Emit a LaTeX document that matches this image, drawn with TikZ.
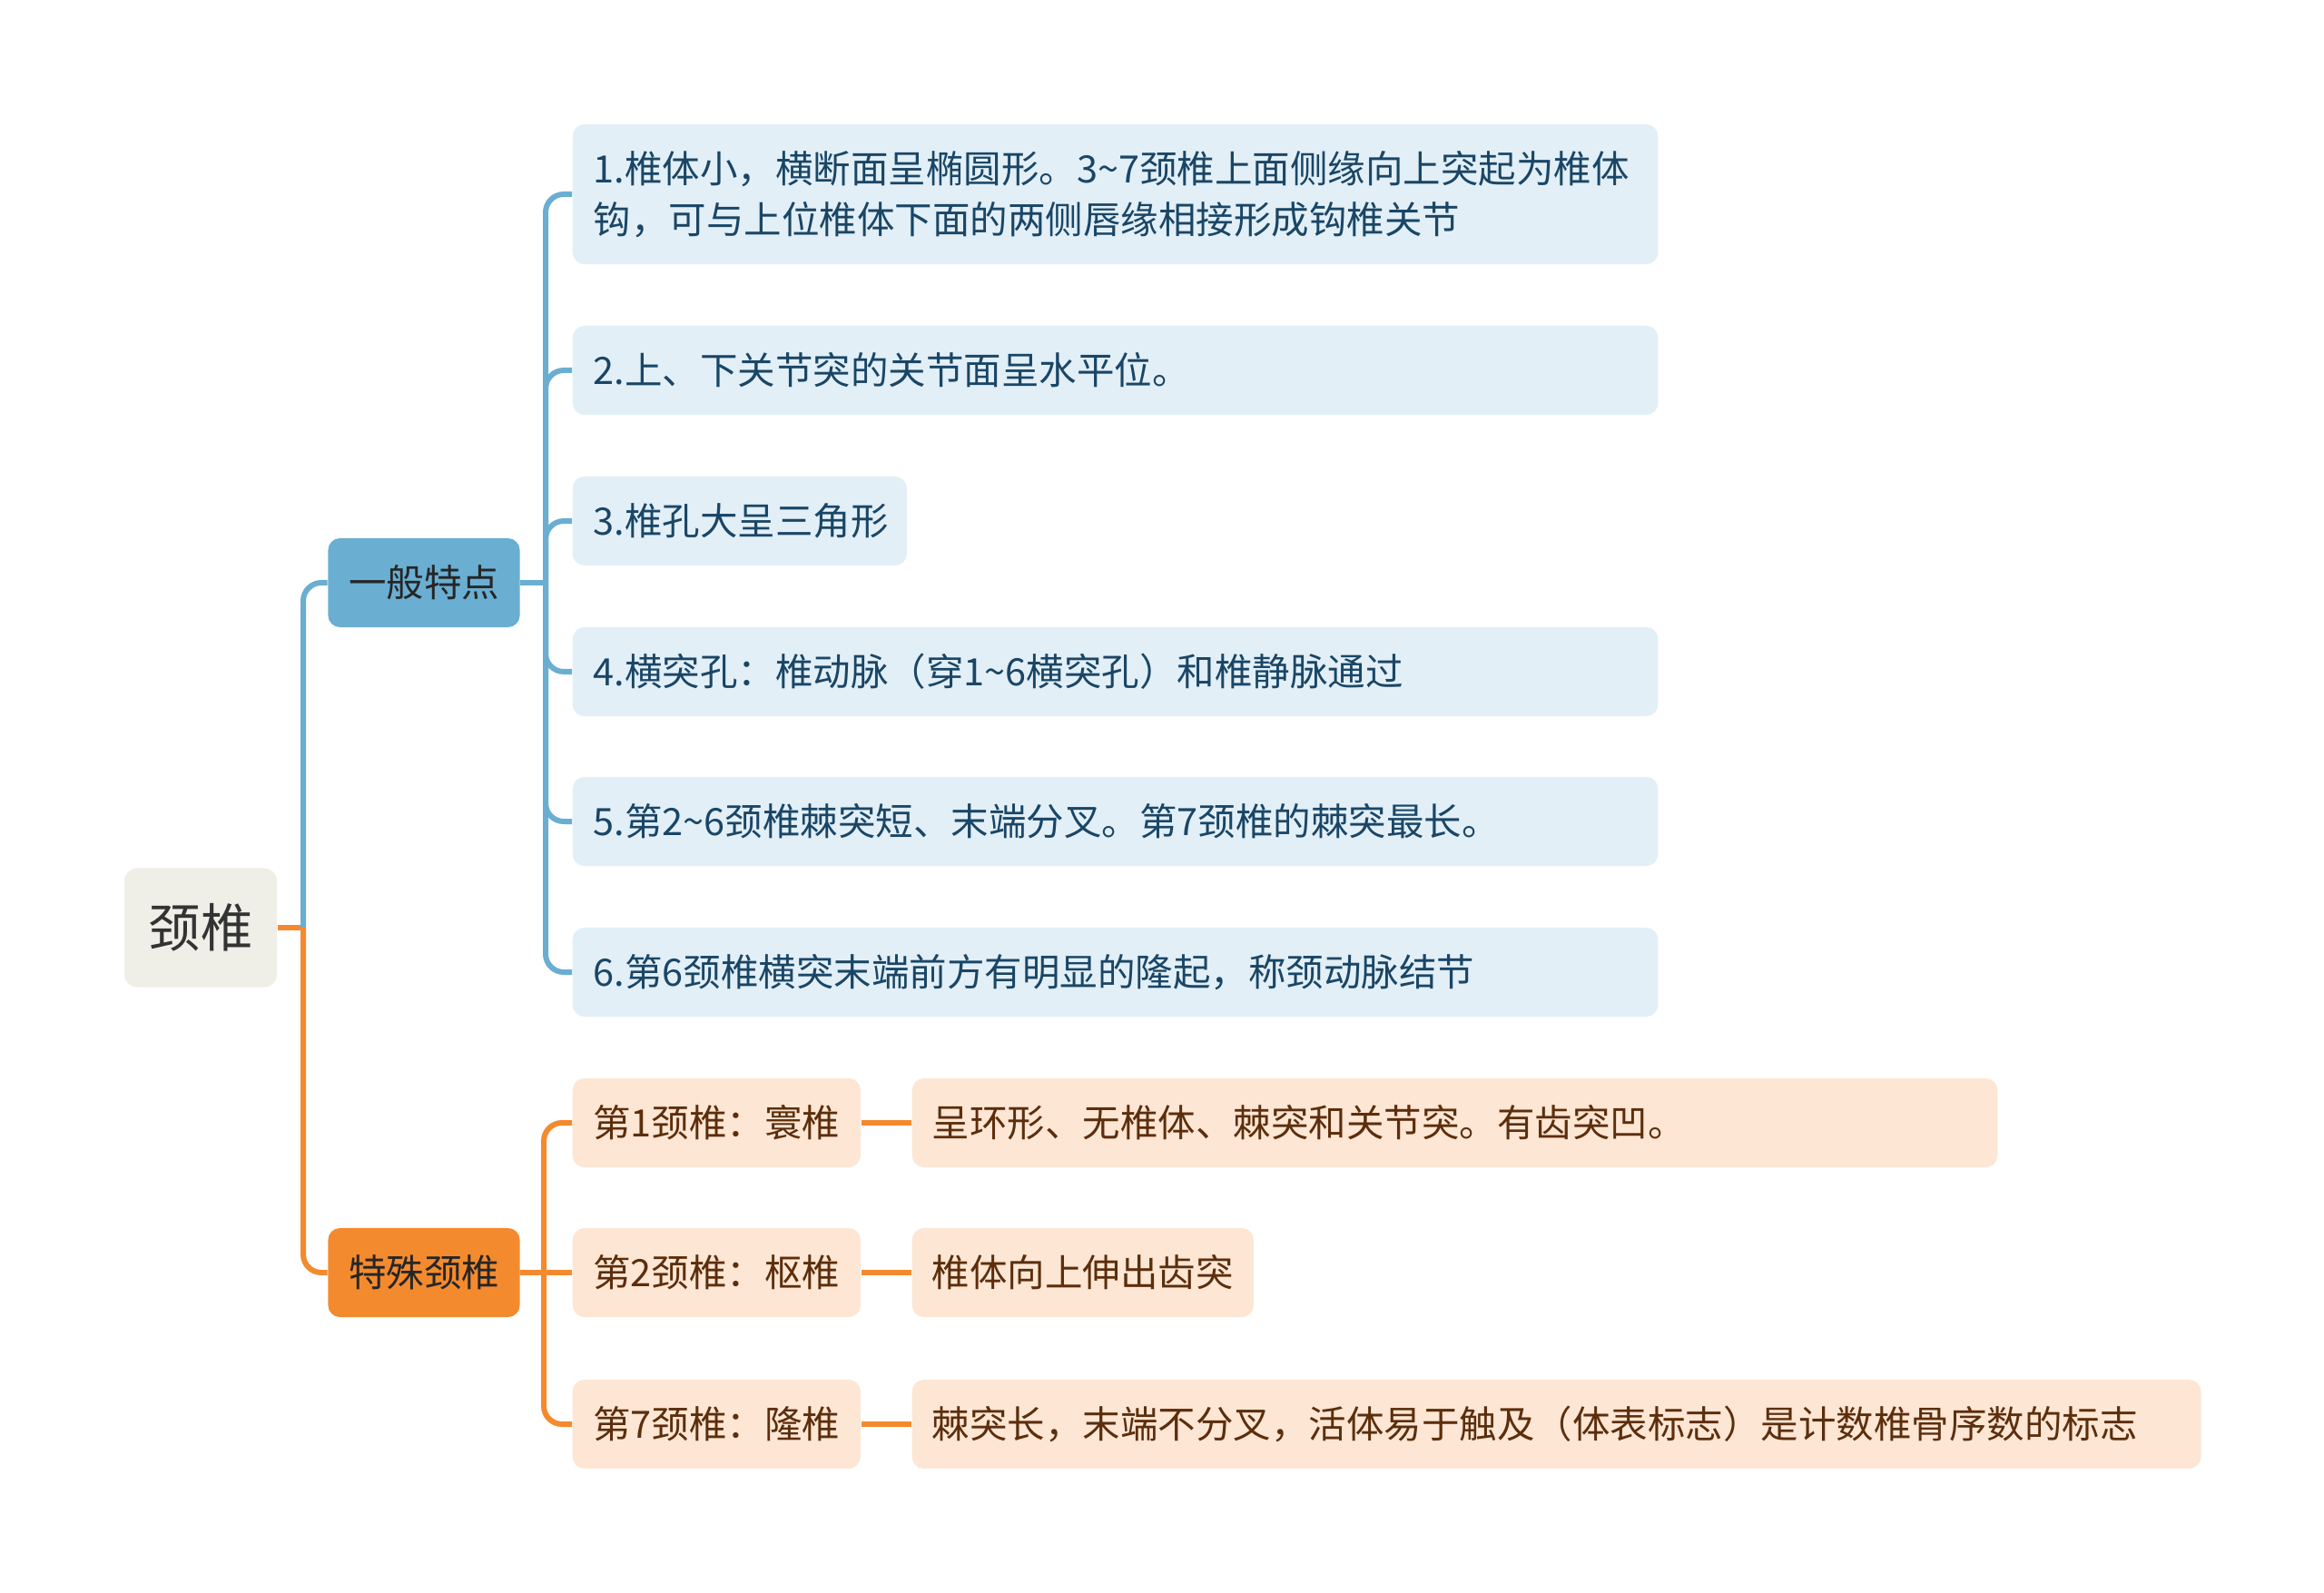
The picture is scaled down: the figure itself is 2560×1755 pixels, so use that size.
\documentclass[tikz,border=0pt]{standalone}
\usepackage{fontspec}
\newfontfamily\cjk{Noto Sans CJK SC}
\usepackage{tikz}
\usetikzlibrary{positioning}
\definecolor{rootfill}{RGB}{239,238,231}
\definecolor{bluemain}{RGB}{106,174,210}
\definecolor{bluelight}{RGB}{226,239,247}
\definecolor{bluetext}{RGB}{26,70,102}
\definecolor{orgmain}{RGB}{244,138,46}
\definecolor{orglight}{RGB}{253,230,212}
\definecolor{orgtext}{RGB}{92,46,12}
\tikzset{txt/.style={font=\cjk\fontsize{11.8pt}{15.8pt}\selectfont}}

\begin{document}
\begin{tikzpicture}[x=0.01cm, y=-0.01cm]
\tikzstyle{rootbox} = [fill=rootfill, rounded corners=0.14cm, minimum width=1.68cm, minimum height=1.31cm, inner sep=0pt, text=black!80, font=\cjk\fontsize{16.3pt}{20pt}\selectfont]
\tikzstyle{subbox} = [txt, rounded corners=0.13cm, minimum width=2.11cm, minimum height=0.98cm, inner sep=0pt, text=black!85]
\tikzstyle{leafb} = [txt, anchor=west, fill=bluelight, text=bluetext, rounded corners=0.13cm, inner xsep=0.23cm, inner ysep=0pt, minimum height=0.98cm, text width=11.49cm, align=left]
\tikzstyle{leafo} = [txt, anchor=west, fill=orglight, text=orgtext, rounded corners=0.13cm, inner xsep=0.22cm, inner ysep=0pt, minimum height=0.98cm, align=left]
\tikzstyle{bline} = [bluemain, line width=0.06cm, rounded corners=0.2cm]
\tikzstyle{oline} = [orgmain, line width=0.06cm, rounded corners=0.2cm]
\useasboundingbox (0,0) rectangle (2560,1755);

% root and main branches
\node[rootbox](neck) at (221, 1022){颈椎};
\node[subbox, fill=bluemain](gen) at (467, 642){一般特点};
\node[subbox, fill=orgmain](spec) at (467, 1402){特殊颈椎};

% general features
\node[leafb, minimum height=1.54cm](g1) at (630, 214){1.椎体小，横断面呈椭圆形。3\textasciitilde7颈椎上面侧缘向上突起为椎体\\钩，可与上位椎体下面的两侧唇缘相接形成钩椎关节};
\node[leafb](g2) at (630, 408){2.上、下关节突的关节面呈水平位。};
\node[leafb, text width=3.22cm](g3) at (630, 574){3.椎孔大呈三角形};
\node[leafb](g4) at (630, 740){4.横突孔：椎动脉（穿1\textasciitilde6横突孔）和椎静脉通过};
\node[leafb](g5) at (630, 905){5.第2\textasciitilde6颈椎棘突短、末端分叉。第7颈椎的棘突最长。};
\node[leafb](g6) at (630, 1071){6.第6颈椎横突末端前方有明显的隆起，称颈动脉结节};

% special vertebrae
\node[leafo, minimum width=3.17cm](c1) at (630, 1237){第1颈椎：寰椎};
\node[leafo, minimum width=3.17cm](c2) at (630, 1402){第2颈椎：枢椎};
\node[leafo, minimum width=3.17cm](c7) at (630, 1569){第7颈椎：隆椎};
\node[leafo, text width=11.51cm](d1) at (1004, 1237){呈环形、无椎体、棘突和关节突。有齿突凹。};
\node[leafo, text width=3.32cm](d2) at (1004, 1402){椎体向上伸出齿突};
\node[leafo, text width=13.75cm](d7) at (1004, 1569){棘突长，末端不分叉，活体易于触及（体表标志）是计数椎骨序数的标志};

% connectors
\coordinate (rj) at (334, 1022);
\coordinate (gj) at (601, 642);
\coordinate (sj) at (599, 1402);
\draw[oline] (neck.east) -- (rj);
\draw[bline] (rj) -- (rj |- gen) -- (gen.west);
\draw[oline] (rj) -- (rj |- spec) -- (spec.west);

\draw[bline] (gen.east) -- (gj);
\draw[bline] (gj) -- (gj |- g1) -- (g1.west);
\draw[bline] (gj) -- (gj |- g2) -- (g2.west);
\draw[bline] (gj) -- (gj |- g3) -- (g3.west);
\draw[bline] (gj) -- (gj |- g4) -- (g4.west);
\draw[bline] (gj) -- (gj |- g5) -- (g5.west);
\draw[bline] (gj) -- (gj |- g6) -- (g6.west);

\draw[oline] (spec.east) -- (sj);
\draw[oline] (sj) -- (sj |- c1) -- (c1.west);
\draw[oline] (sj) -- (c2.west);
\draw[oline] (sj) -- (sj |- c7) -- (c7.west);
\draw[oline] (c1.east) -- (d1.west);
\draw[oline] (c2.east) -- (d2.west);
\draw[oline] (c7.east) -- (d7.west);
\end{tikzpicture}
\end{document}
